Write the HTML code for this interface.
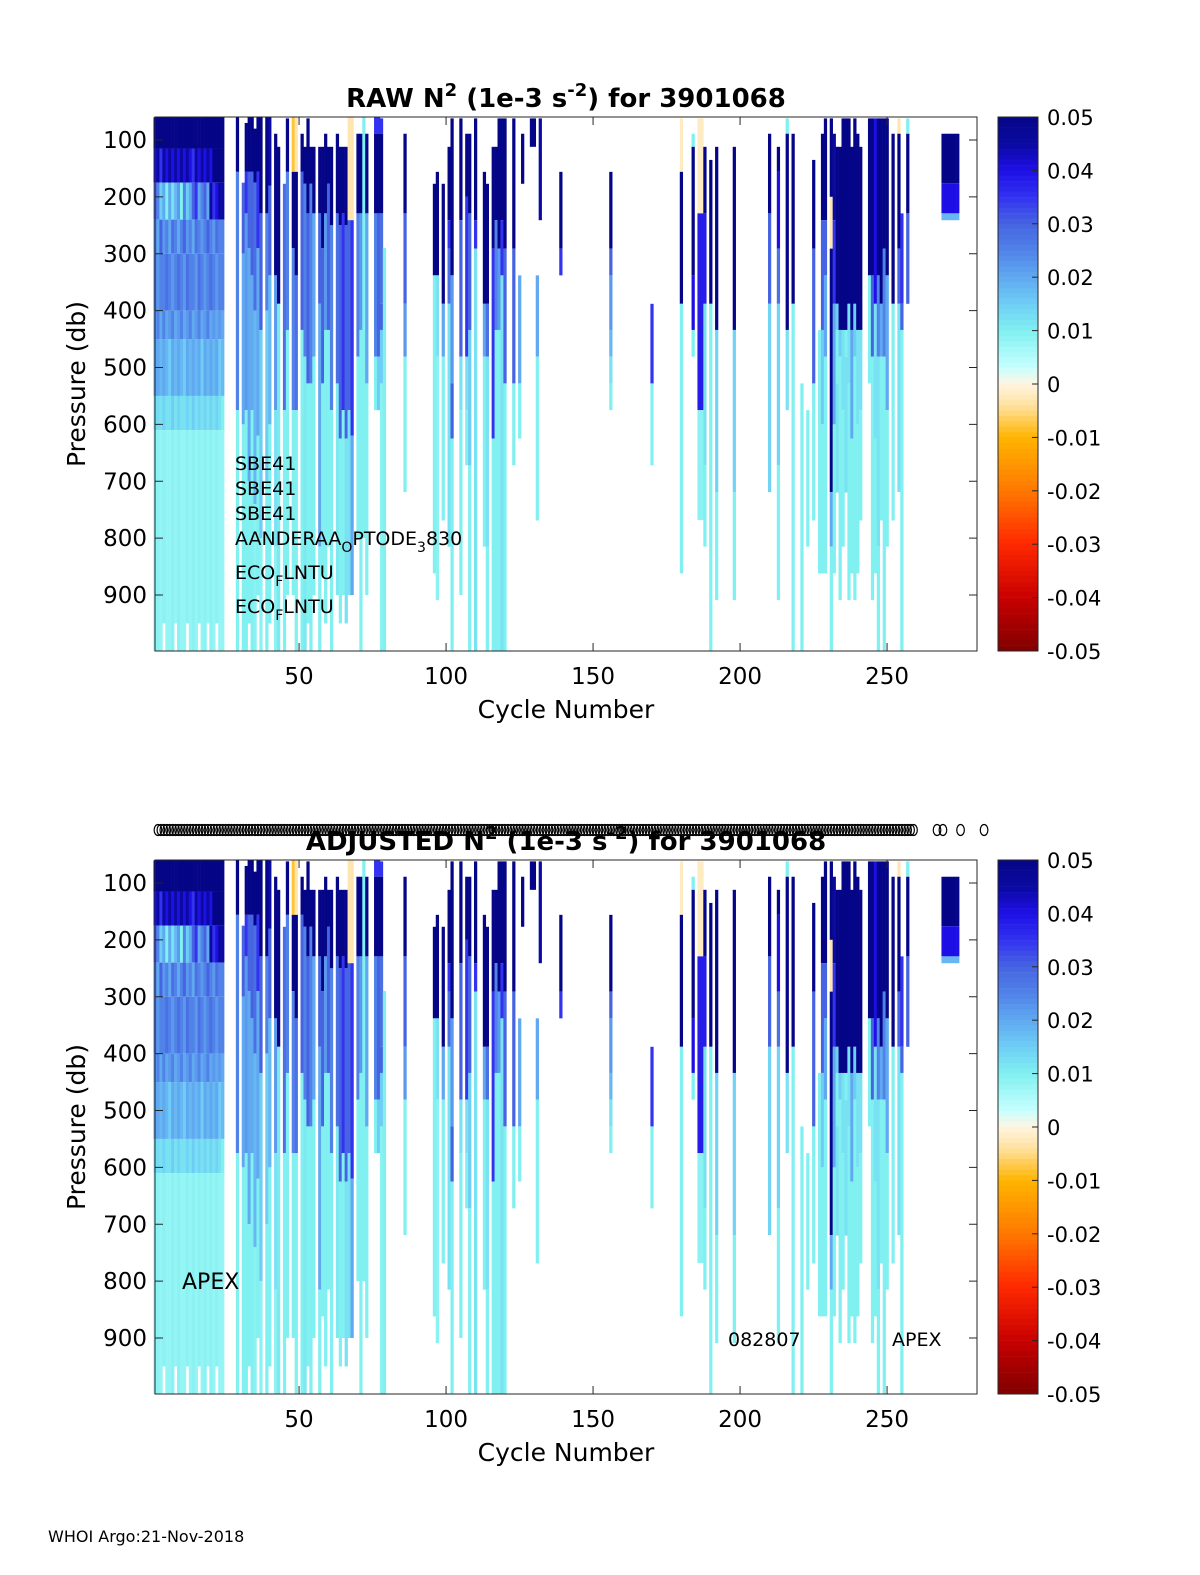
<!DOCTYPE html>
<html><head><meta charset="utf-8"><style>
html,body{margin:0;padding:0;background:#fff}
svg{display:block}
text{font-family:"DejaVu Sans","Liberation Sans",sans-serif;fill:#000}
</style></head><body>
<svg id="fig" width="1200" height="1575" viewBox="0 0 1200 1575" xmlns="http://www.w3.org/2000/svg">
<rect width="1200" height="1575" fill="#fff"/>
<g id="p1"></g>
<g id="p2"></g>
<text x="48" y="1542" font-size="16">WHOI Argo:21-Nov-2018</text>
</svg>
<script>
const L=[60,115,175,240,300,400,450,550,610];
const cycles=[1,2,3,4,5,6,7,8,9,10,11,12,13,14,15,16,17,18,19,20,21,22,23,24,
29,31,32,33,34,35,36,37,39,40,42,43,45,46,48,49,51,52,53,54,55,57,58,59,60,61,63,64,65,66,67,68,70,71,72,73,76,77,78,79,
86,96,97,99,101,102,105,107,108,110,113,114,116,117,118,119,120,123,125,126,129,130,131,132,139,156,170,180,184,186,187,188,190,192,198,
210,213,216,218,221,223,225,227,228,229,231,232,233,234,235,236,237,238,239,240,241,244,245,246,247,248,249,250,252,254,255,257,
269,270,271,272,273,274];
const bounds=[
L.concat([1000]),L.concat([1000]),L.concat([1000]),L.concat([950]),L.concat([1000]),L.concat([1000]),L.concat([1000]),L.concat([950]),
L.concat([1000]),L.concat([1000]),L.concat([1000]),L.concat([950]),L.concat([1000]),L.concat([1000]),L.concat([1000]),L.concat([950]),
L.concat([1000]),L.concat([1000]),L.concat([950]),L.concat([1000]),L.concat([1000]),L.concat([950]),L.concat([1000]),L.concat([1000]),
[60,156,575,1000],[175,300,600,1000],[70,156,229,575,1000],[60,156,290,700,950],[60,156,338,575,1000],[80,175,400,740,1000],[60,156,290,620,900],[60,229,434,800,1000],[60,229,400,700,1000],[60,180,338,600,950],
[89,338,575,815,1000],[112,388,1000],[177,575,1000],[62,156,434,900],[60,156,290,575,900],[60,156,338,575,1000],[89,156,434,1000],[112,177,481,1000],[62,229,528,950],[112,177,528,1000],
[112,229,481,900],[112,229,388,815,1000],[112,290,528,862],[89,229,434,950],[112,177,434,815],[112,250,575,1000],[89,229,528,900],[112,250,625,950],[112,229,575,900],[112,250,625,950],
[60,241,575,900],[60,241,620,900],[89,229,481,800],[89,229,434,1000],[60,800],[89,229,528,900],[60,89,229,481,575],[60,89,229,481,575],[62,89,229,388,434,528,1000],[290,1000],
[89,229,388,481,719],[177,338,862],[156,338,481,909],[177,388,481,769],[112,241,291,388,815],[62,338,528,625,1000],[62,241,481,575,900],[89,200,481,575,672],[89,229,434,672,1000],[62,241,291,1000],
[156,388,481,815],[177,388,481,815,1000],[112,291,625,1000],[112,241,434,1000],[62,291,434,1000],[62,241,338,1000],[62,291,528,1000],[62,291,528,672],[338,528,625],[89,177],
[62,112],[62,112],[338,481,769],[62,241],[156,291,338],[156,291,338,434,481,528,575],[388,528,672],[62,156,388,862],[89,112,338,434,481],[62,229,575,768],
[62,229,575,768],[112,229,388,672,815],[135,388,1000],[112,434,719,909],[112,434,719,909],
[89,229,388,719],[112,156,291,388,672,909],[62,89,434,575],[89,388,1000],[528,1000],[575,815],[135,291,528,769],[434,862],[89,241,434,600,862],[62,241,338,481,862],
[62,200,291,719,815,1000],[89,241,388,600,862],[112,388,434,528,720],[112,434,481,909],[62,434,575,815],[62,434,481,720],[62,388,528,909],[112,434,625,862],[62,388,481,909],[89,434,600,862],
[112,434,575,769],[62,338,528],[62,338,481,909],[62,388,625,862],[62,338,481,815,1000],[62,388,481,769],[62,291,481,1000],[62,338,575,815],[89,388,769],[62,89,291,388,719],
[229,388,434,1000],[62,89,229,388],
[89,176,229,241],[89,176,229,241],[89,176,229,241],[89,176,229,241],[89,176,229,241],[89,176,229,241]];
const vals=[
[.05,.04,.03,.025,.025,.022,.02,.012,.008],[.05,.045,.025,.02,.022,.025,.02,.013,.009],[.05,.035,.015,.03,.025,.02,.018,.012,.008],[.05,.045,.02,.022,.025,.025,.02,.014,.009],
[.05,.04,.01,.025,.028,.02,.018,.012,.008],[.05,.045,.02,.02,.025,.022,.015,.012,.008],[.05,.04,.012,.028,.022,.025,.02,.015,.009],[.05,.045,.018,.025,.025,.02,.018,.012,.008],
[.05,.04,.022,.02,.028,.022,.02,.014,.009],[.05,.045,.01,.025,.025,.025,.018,.012,.008],[.05,.04,.025,.03,.022,.02,.015,.012,.008],[.05,.045,.015,.022,.028,.022,.02,.014,.009],
[.05,.04,.02,.025,.025,.025,.018,.012,.008],[.05,.035,.03,.02,.025,.02,.02,.015,.009],[.05,.045,.035,.028,.022,.022,.018,.012,.008],[.05,.04,.02,.025,.028,.025,.02,.014,.009],
[.05,.045,.025,.022,.025,.02,.015,.012,.008],[.05,.04,.03,.025,.022,.022,.02,.014,.009],[.05,.045,.02,.03,.025,.025,.018,.012,.008],[.05,.04,.045,.025,.028,.02,.02,.014,.009],
[.05,.05,.035,.022,.025,.022,.018,.012,.008],[.05,.05,.04,.028,.022,.02,.02,.014,.009],[.05,.05,.045,.025,.025,.022,.015,.012,.008],[.05,.05,.045,.025,.025,.02,.018,.01,.008],
[.05,.025,.01],[.03,.02,.01],[.05,.035,.022,.01],[.05,.03,.02,.01],[.05,.03,.02,.01],[.05,.028,.018,.009],[.05,.035,.02,.01],[.05,.03,.015,.009],[.05,.025,.015,.01],[.045,.03,.018,.01],
[.05,.022,.012,.009],[.05,.011],[.028,.01],[.05,.025,.01],[-.008,.05,.025,.01],[-.003,.05,.028,.01],[.05,.03,.01],[.05,.025,.011],[.05,.03,.01],[.05,.025,.01],
[.05,.02,.01],[.05,.03,.02,.01],[.05,.03,.01],[.05,.022,.01],[.05,.03,.01],[.05,.025,.01],[.05,.028,.011],[.05,.03,.01],[.05,.035,.01],[.05,.03,.012],
[-.003,.03,.012],[-.003,.035,.02],[.05,.025,.01],[.05,.022,.01],[.01],[.05,.02,.01],[.035,.05,.025,.01],[.035,.05,.03,.015],[.035,.05,.028,.03,.015,.009],[.01],
[.05,.03,.022,.01],[.05,.01],[.05,.012,.009],[.05,.02,.01],[.05,.035,.028,.012],[.05,.022,.03,.01],[.05,.03,.012,.01],[.05,.035,.012,.01],[.05,.03,.015,.01],[.05,.035,.012],
[.05,.02,.01],[.05,.028,.012,.01],[.05,.035,.01],[.05,.025,.01],[.05,.022,.01],[.05,.035,.012],[.05,.03,.01],[.05,.03,.01],[.02,.01],[.05],
[.05],[.05],[.02,.01],[.045],[.05,.035],[.05,.03,.022,.018,.012,.01],[.035,.01],[-.002,.05,.01],[.01,.05,.04,.01],[-.002,.038,.009],
[-.002,.038,.009],[.05,.038,.012,.01],[.05,.01],[.05,.014,.01],[.05,.014,.01],
[.05,.03,.014],[.05,.04,.028,.014,.01],[.01,.05,.012],[.05,.01],[.01],[.01],[.05,.03,.01],[.01],[.05,.03,.015,.01],[.05,.03,.02,.01],
[.05,-.003,.05,.02,.01],[.045,.035,.02,.01],[.05,.015,.01,.012],[.05,.015,.01],[.05,.012,.01],[.05,.01,.012],[.05,.012,.01],[.05,.02,.01],[.05,.015,.01],[.05,.012,.01],
[.05,.012,.01],[.05,.01],[.05,.03,.01],[.04,.012,.01],[.05,.025,.012,.01],[.05,.02,.01],[.05,.025,.01],[.05,.02,.01],[.05,.01],[-.003,.05,.03,.012],
[.035,.03,.01],[.01,.05,.03],
[.05,.04,.018],[.05,.04,.018],[.05,.04,.018],[.05,.04,.018],[.05,.04,.018],[.05,.04,.018]];
const xTicks=[50,100,150,200,250];
const yTicks=[100,200,300,400,500,600,700,800,900];
const cbTicks=[0.05,0.04,0.03,0.02,0.01,0,-0.01,-0.02,-0.03,-0.04,-0.05];
const cbLabels=["0.05","0.04","0.03","0.02","0.01","0","-0.01","-0.02","-0.03","-0.04","-0.05"];

const stops=[[-.05,[128,0,0]],[-.04,[200,0,0]],[-.03,[255,40,0]],[-.02,[255,120,0]],[-.01,[255,180,0]],[-.004,[255,225,160]],[0,[255,245,225]],[.003,[200,255,255]],[.01,[128,240,240]],[.015,[110,205,245]],[.02,[96,168,240]],[.025,[80,130,232]],[.03,[70,100,225]],[.035,[50,50,240]],[.04,[30,15,230]],[.045,[10,10,160]],[.05,[5,5,135]]];
function cmap(v){v=Math.max(-.05,Math.min(.05,v));for(let i=1;i<stops.length;i++){if(v<=stops[i][0]){const a=stops[i-1],b=stops[i];const t=(v-a[0])/(b[0]-a[0]);const c=a[1].map((q,k)=>Math.round(q+(b[1][k]-q)*t));return `rgb(${c[0]},${c[1]},${c[2]})`;}}return 'rgb(5,5,135)';}
const NS="http://www.w3.org/2000/svg";
function mk(tag,attrs,parent){const e=document.createElementNS(NS,tag);for(const k in attrs)e.setAttribute(k,attrs[k]);parent.appendChild(e);return e;}
const X0=155,X1=977,CW=2.94;
function xS(c){return X0+(c-1)*CW;}
function cbY(v,top){return top+(0.05-v)/0.1*534;}

function panel(g,top,titleMain,isAdj){
  const yS=p=>top+23+(p-100)*0.56875;
  const bottom=top+534;
  // heatmap
  for(let i=0;i<cycles.length;i++){
    const b=bounds[i],v=vals[i];
    for(let j=0;j<v.length;j++){
      const y0=Math.max(top,yS(b[j])),y1=Math.min(bottom,yS(b[j+1]));
      const r=mk('rect',{x:(xS(cycles[i])-CW/2).toFixed(2),y:y0.toFixed(2),width:(CW+0.3).toFixed(2),height:(y1-y0).toFixed(2),fill:cmap(v[j])},g);
      
      
    }
  }
  // frame
  const fr=mk('rect',{x:X0,y:top,width:X1-X0,height:534,fill:'none',stroke:'#262626','stroke-width':1},g);
  
  
  xTicks.forEach(t=>{const x=xS(t);
    mk('line',{x1:x,y1:bottom,x2:x,y2:bottom-8,stroke:'#262626'},g);
    mk('line',{x1:x,y1:top,x2:x,y2:top+8,stroke:'#262626'},g);
    const tx=mk('text',{x:x,y:bottom+33,'font-size':23,'text-anchor':'middle'},g);tx.textContent=t;
    
    
  });
  yTicks.forEach(t=>{const y=yS(t);
    mk('line',{x1:X0,y1:y,x2:X0+8,y2:y,stroke:'#262626'},g);
    mk('line',{x1:X1,y1:y,x2:X1-8,y2:y,stroke:'#262626'},g);
    const tx=mk('text',{x:147,y:y+8,'font-size':23,'text-anchor':'end'},g);tx.textContent=t;
    
    
  });
  const xl=mk('text',{x:566,y:bottom+67,'font-size':25,'text-anchor':'middle'},g);xl.textContent='Cycle Number';
  
  
  const yl=mk('text',{x:0,y:0,'font-size':25,'text-anchor':'middle',transform:`translate(85,${top+267}) rotate(-90)`},g);yl.textContent='Pressure (db)';
  
  
  // title
  const tt=mk('text',{x:566,y:top-10,'font-size':26,'font-weight':'bold','text-anchor':'middle'},g);
  tt.innerHTML=`${titleMain} N<tspan dy="-11" font-size="18">2</tspan><tspan dy="11"> (1e-3 s</tspan><tspan dy="-11" font-size="18">-2</tspan><tspan dy="11">) for 3901068</tspan>`;
  
  
  // colorbar
  const N=100;
  for(let k=0;k<N;k++){const v=0.05-(k+0.5)*0.1/N;
    const r=mk('rect',{x:998,y:(top+k*5.34).toFixed(2),width:40,height:5.6,fill:cmap(v)},g);
    
    }
  const cb=mk('rect',{x:998,y:top,width:40,height:534,fill:'none',stroke:'#262626'},g);
  
  
  cbTicks.forEach((t,i)=>{const y=cbY(t,top);
    mk('line',{x1:1038,y1:y,x2:1032,y2:y,stroke:'#262626'},g);
    const tx=mk('text',{x:1047,y:y+8,'font-size':21},g);tx.textContent=cbLabels[i];
    
    
  });
  if(!isAdj){
    const lines=[['SBE41',''],['SBE41',''],['SBE41','']];
    const ys=[470,495,520];
    lines.forEach((l,i)=>{const tx=mk('text',{x:235,y:ys[i],'font-size':19},g);tx.textContent=l[0];
      
      });
    const a=mk('text',{x:235,y:545,'font-size':19},g);
    a.innerHTML='AANDERAA<tspan dy="7" font-size="14">O</tspan><tspan dy="-7">PTODE</tspan><tspan dy="7" font-size="14">3</tspan><tspan dy="-7">830</tspan>';
    
    
    [579,613].forEach(y=>{const e=mk('text',{x:235,y:y,'font-size':19},g);
      e.innerHTML='ECO<tspan dy="7" font-size="14">F</tspan><tspan dy="-7">LNTU</tspan>';
      
      });
  } else {
    const a=mk('text',{x:182,y:1289,'font-size':22},g);a.textContent='APEX';
    
    
    const b=mk('text',{x:728,y:1346,'font-size':19},g);b.textContent='082807';
    
    
    const c=mk('text',{x:892,y:1346,'font-size':19},g);c.textContent='APEX';
    
    
    // o markers row
    const mg=mk('g',{},g);
    
    
    for(let c2=2;c2<=259;c2++){mk('ellipse',{cx:xS(c2),cy:830,rx:3.8,ry:5.5,fill:'none',stroke:'#000','stroke-width':1.2},mg);}
    [267,269,275,283].forEach(c2=>mk('ellipse',{cx:xS(c2),cy:830,rx:3.8,ry:5.5,fill:'none',stroke:'#000','stroke-width':1.2},mg));
  }
}
panel(document.getElementById('p1'),117,'RAW',false);
panel(document.getElementById('p2'),860,'ADJUSTED',true);
</script>
</body></html>
